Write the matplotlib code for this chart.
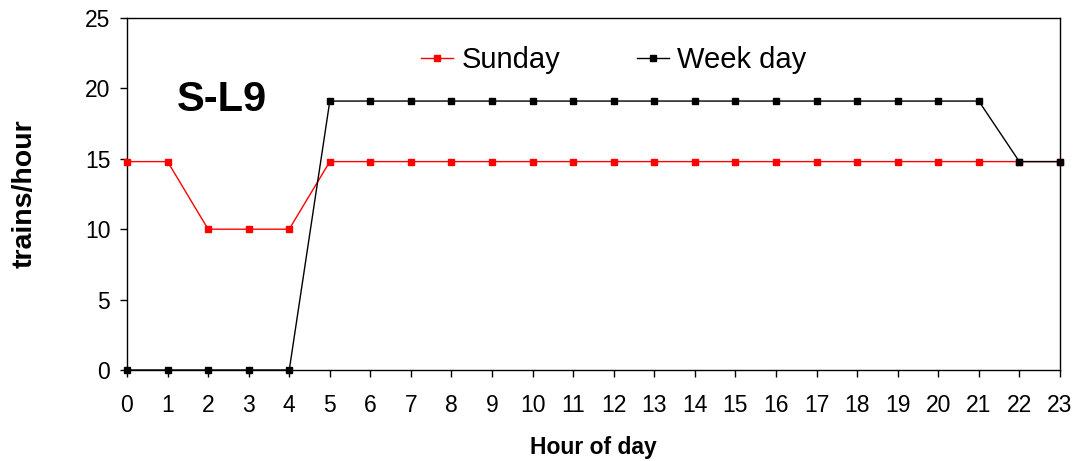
import numpy as np
import matplotlib.pyplot as plt

plt.rcParams['font.family'] = ['Liberation Sans', 'DejaVu Sans']

# trains per hour on line S-L9
hours = list(range(24))
sunday = [14.8, 14.8, 10, 10, 10] + [14.8] * 19
weekday = [0, 0, 0, 0, 0] + [19.1] * 17 + [14.8, 14.8]

fig = plt.figure(figsize=(10.79, 4.61), dpi=100)
ax = fig.add_axes([0.1177, 0.1974, 0.8646, 0.7636])

ax.plot(hours, sunday, color='red', marker='s', markersize=5, lw=1.0,
        label='Sunday', clip_on=False, zorder=3)
ax.plot(hours, weekday, color='black', marker='s', markersize=5, lw=1.0,
        label='Week day', clip_on=False, zorder=4)

ax.set_xlim(0, 23)
ax.set_ylim(0, 25)
ax.set_xticks(hours)
ax.set_yticks(range(0, 26, 5))
ax.tick_params(direction='out', length=5, width=1, labelsize=16.5)
ax.tick_params(axis='x', pad=12)
ax.tick_params(axis='y', pad=7)
for s in ax.spines.values():
    s.set_linewidth(1.0)

ax.set_xlabel('Hour of day', fontsize=16.5, fontweight='bold', labelpad=14)
ax.set_ylabel('trains/hour', fontsize=20.5, fontweight='bold', labelpad=34)

ax.text(1.23, 19.2, 'S-L9', fontsize=30, fontweight='bold', va='center', ha='left')

ax.legend(loc='upper center', bbox_to_anchor=(0.522, 0.995), ncol=2, frameon=False,
          fontsize=21, handlelength=1.1, handletextpad=0.3, columnspacing=2.6,
          markerscale=0.9)

fig.savefig('out.png', dpi=100, facecolor='white')
